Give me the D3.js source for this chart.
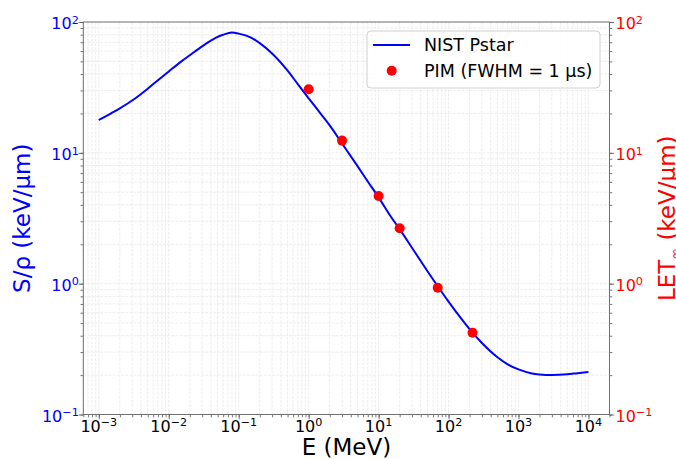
<!DOCTYPE html>
<html>
<head>
<meta charset="utf-8">
<script src="https://cdn.jsdelivr.net/npm/d3@7"></script>
<style>
  body { margin: 0; background: #fff; }
  svg { font-family: "DejaVu Sans", sans-serif; }
</style>
</head>
<body>
<div id="chart"></div>
<script>
// NIST Pstar curve (water), keV/um vs MeV
const energy = [0.001, 0.0015, 0.002, 0.003, 0.005, 0.007, 0.01, 0.015, 0.02, 0.03, 0.04, 0.05,
  0.06, 0.08, 0.1, 0.15, 0.2, 0.3, 0.5, 0.7, 1, 1.5, 2, 3, 5, 7, 10, 15, 20, 30, 50, 70,
  100, 150, 200, 300, 500, 700, 1000, 1500, 2000, 3000, 5000, 7000, 10000];
const stopping = [17.8, 20.05, 21.9, 25.1, 30.9, 35.9, 41.9, 49.8, 55.7, 65.2, 72, 77,
  80, 83, 81.5, 76, 69, 57.5, 42.5, 33.5, 26.1, 19.8, 16.2, 11.8, 7.91, 6.04, 4.57, 3.25, 2.61, 1.88, 1.245, 0.956,
  0.729, 0.545, 0.449, 0.352, 0.274, 0.242, 0.221, 0.207, 0.2025, 0.2005, 0.203, 0.207, 0.211];

// PIM points
const pimEnergy = [1, 3, 10, 20, 70, 220];
const pimLet = [30.6, 12.4, 4.68, 2.65, 0.932, 0.422];

// tick decades
const xDecades = [-3, -2, -1, 0, 1, 2, 3, 4];
const yDecades = [-1, 0, 1, 2];

const width = 676, height = 459;
const margins = { top: 22, right: 66.5, bottom: 44.5, left: 83.3 };
const innerWidth = width - margins.left - margins.right;
const innerHeight = height - margins.top - margins.bottom;

const xScale = d3.scaleLog().domain([6e-4, 2e4]).range([0, innerWidth]);
const yScale = d3.scaleLog().domain([0.1, 100]).range([innerHeight, 0]);

// minor tick positions (1..9 in each decade, inside the domain)
function minors(scale) {
  const [a, b] = scale.domain();
  const out = [];
  for (let p = Math.floor(Math.log10(a)); p <= Math.ceil(Math.log10(b)); p++) {
    for (let m = 1; m <= 9; m++) {
      const v = m * Math.pow(10, p);
      if (v >= a * 0.999 && v <= b * 1.001) out.push(v);
    }
  }
  return out;
}
const xMinor = minors(xScale);
const yMinor = minors(yScale);

const svg = d3.select('#chart').append('svg')
  .attr('width', width)
  .attr('height', height);

const g = svg.append('g')
  .attr('transform', `translate(${margins.left},${margins.top})`);

// grid
g.append('g').attr('class', 'grid x')
  .selectAll('line').data(xMinor).join('line')
  .attr('x1', d => xScale(d)).attr('x2', d => xScale(d))
  .attr('y1', 0).attr('y2', innerHeight)
  .attr('stroke', '#e8e8e8').attr('stroke-width', 0.8)
  .attr('stroke-dasharray', '3,1.2');

g.append('g').attr('class', 'grid y')
  .selectAll('line').data(yMinor).join('line')
  .attr('x1', 0).attr('x2', innerWidth)
  .attr('y1', d => yScale(d)).attr('y2', d => yScale(d))
  .attr('stroke', '#e8e8e8').attr('stroke-width', 0.8)
  .attr('stroke-dasharray', '3,1.2');

// axes (tick marks only, labels drawn below)
const tickColor = '#555';
function styleAxis(sel) {
  sel.select('.domain').remove();
  sel.selectAll('.tick line').attr('stroke', tickColor).attr('stroke-width', 0.8);
  sel.selectAll('.tick text').remove();
}

const xMajorVals = xDecades.map(p => Math.pow(10, p));
const yMajorVals = yDecades.map(p => Math.pow(10, p));

g.append('g').attr('transform', `translate(0,${innerHeight})`)
  .call(d3.axisBottom(xScale).tickValues(xMinor).tickSize(2.8)).call(styleAxis);
g.append('g').attr('transform', `translate(0,${innerHeight})`)
  .call(d3.axisBottom(xScale).tickValues(xMajorVals).tickSize(4.8)).call(styleAxis);
g.append('g')
  .call(d3.axisLeft(yScale).tickValues(yMinor).tickSize(2.8)).call(styleAxis);
g.append('g')
  .call(d3.axisLeft(yScale).tickValues(yMajorVals).tickSize(4.8)).call(styleAxis);
g.append('g').attr('transform', `translate(${innerWidth},0)`)
  .call(d3.axisRight(yScale).tickValues(yMinor).tickSize(2.8)).call(styleAxis);
g.append('g').attr('transform', `translate(${innerWidth},0)`)
  .call(d3.axisRight(yScale).tickValues(yMajorVals).tickSize(4.8)).call(styleAxis);

// frame
g.append('rect')
  .attr('width', innerWidth).attr('height', innerHeight)
  .attr('fill', 'none').attr('stroke', '#707070').attr('stroke-width', 1);

// 10^n labels
function powLabel(text, p) {
  text.append('tspan').text('10');
  text.append('tspan')
    .attr('dy', '-0.5em')
    .attr('font-size', '0.7em')
    .text(p < 0 ? '\u2212' + Math.abs(p) : String(p));
}

g.append('g').selectAll('text').data(xDecades).join('text')
  .attr('x', d => xScale(Math.pow(10, d)))
  .attr('y', innerHeight + 17.3)
  .attr('text-anchor', 'middle')
  .attr('font-size', 16)
  .attr('fill', '#000')
  .each(function (d) { powLabel(d3.select(this), d); });

g.append('g').selectAll('text').data(yDecades).join('text')
  .attr('x', -4.5)
  .attr('y', d => yScale(Math.pow(10, d)) + 7.3)
  .attr('text-anchor', 'end')
  .attr('font-size', 16)
  .attr('fill', '#0000ff')
  .each(function (d) { powLabel(d3.select(this), d); });

g.append('g').selectAll('text').data(yDecades).join('text')
  .attr('x', innerWidth + 6)
  .attr('y', d => yScale(Math.pow(10, d)) + 7.3)
  .attr('text-anchor', 'start')
  .attr('font-size', 16)
  .attr('fill', '#ff0000')
  .each(function (d) { powLabel(d3.select(this), d); });

// axis titles
g.append('text')
  .attr('x', innerWidth / 2)
  .attr('y', innerHeight + 40)
  .attr('text-anchor', 'middle')
  .attr('font-size', 23)
  .text('E (MeV)');

g.append('text')
  .attr('transform', `translate(${-margins.left + 30},${innerHeight / 2}) rotate(-90)`)
  .attr('text-anchor', 'middle')
  .attr('font-size', 23)
  .attr('fill', '#0000ff')
  .text('S/\u03c1 (keV/\u00b5m)');

const rightTitle = g.append('text')
  .attr('transform', `translate(${innerWidth + 65},${innerHeight / 2}) rotate(-90)`)
  .attr('text-anchor', 'middle')
  .attr('font-size', 23)
  .attr('fill', '#ff0000');
rightTitle.append('tspan').text('LET');
rightTitle.append('tspan').attr('font-size', 14).attr('dy', 5).text('\u221e');
rightTitle.append('tspan').attr('dy', -5).text(' (keV/\u00b5m)');

// curve
const line = d3.line()
  .x(d => xScale(d[0]))
  .y(d => yScale(d[1]))
  .curve(d3.curveMonotoneX);

g.append('path')
  .datum(energy.map((e, i) => [e, stopping[i]]))
  .attr('d', line)
  .attr('fill', 'none')
  .attr('stroke', '#0000ff')
  .attr('stroke-width', 2);

// PIM dots
g.append('g').selectAll('circle').data(pimEnergy.map((e, i) => [e, pimLet[i]])).join('circle')
  .attr('cx', d => xScale(d[0]))
  .attr('cy', d => yScale(d[1]))
  .attr('r', 5)
  .attr('fill', '#ff0000');

// legend
const legend = g.append('g').attr('transform', `translate(${innerWidth - 242.5},9)`);
legend.append('rect')
  .attr('width', 233).attr('height', 57).attr('rx', 4)
  .attr('fill', '#fff').attr('fill-opacity', 0.85)
  .attr('stroke', '#d0d0d0').attr('stroke-width', 1);
legend.append('line')
  .attr('x1', 6).attr('x2', 43).attr('y1', 14).attr('y2', 14)
  .attr('stroke', '#0000ff').attr('stroke-width', 2);
legend.append('text')
  .attr('x', 57).attr('y', 14).attr('dy', '0.36em')
  .attr('font-size', 17.5)
  .text('NIST Pstar');
legend.append('circle')
  .attr('cx', 24.7).attr('cy', 39.7).attr('r', 5)
  .attr('fill', '#ff0000');
legend.append('text')
  .attr('x', 57).attr('y', 39.7).attr('dy', '0.36em')
  .attr('font-size', 17.5)
  .text('PIM (FWHM = 1 \u00b5s)');
</script>
</body>
</html>
